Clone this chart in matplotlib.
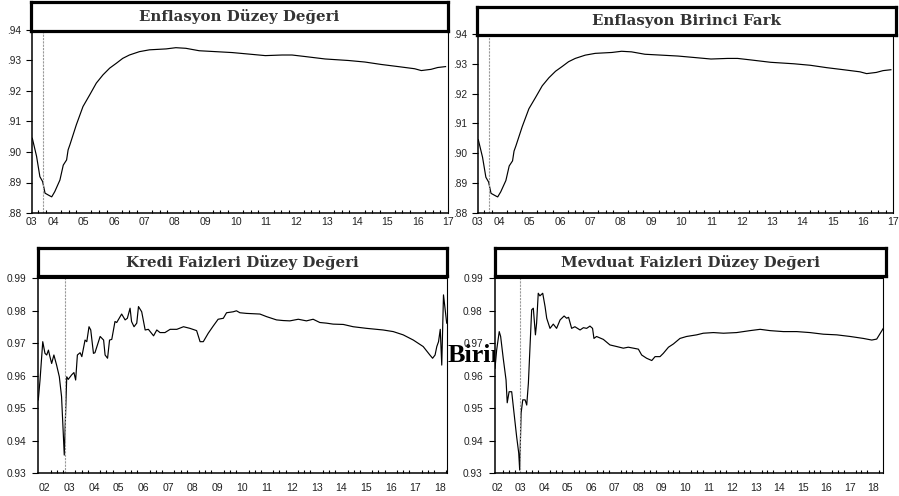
import matplotlib
matplotlib.use("Agg")
import matplotlib.pyplot as plt
from matplotlib.ticker import FuncFormatter, FixedLocator
import numpy as np

plt.rcParams['font.family'] = ['Liberation Sans', 'DejaVu Sans']

# Enflasyon (both top panels show the same curve), decimal years
enf_dates = [2003.80, 2003.94, 2004.05, 2004.14, 2004.22, 2004.38, 2004.44, 2004.54,
             2004.71, 2004.82, 2004.93, 2004.98, 2005.04, 2005.25, 2005.47, 2005.69,
             2005.91, 2006.13, 2006.35, 2006.57, 2006.78, 2007.00, 2007.33, 2007.66,
             2008.21, 2008.53, 2008.86, 2009.30, 2009.85, 2010.39, 2010.94, 2011.48,
             2012.03, 2012.36, 2012.79, 2013.45, 2014.22, 2014.76, 2015.30, 2015.86,
             2016.40, 2016.62, 2016.94, 2017.16, 2017.42]
enf_values = [.9045, .8986, .8919, .8903, .8865, .8856, .8853, .8870,
              .8908, .8957, .8974, .9007, .9024, .9089, .9149, .9187,
              .9226, .9253, .9275, .9291, .9307, .9318, .9329, .9335,
              .9338, .9342, .9340, .9332, .9329, .9326, .9321, .9316,
              .9318, .9318, .9313, .9305, .9300, .9295, .9287, .9280,
              .9273, .9267, .9271, .9277, .9280]

kredi_dates = [2002.25, 2002.32, 2002.43, 2002.52, 2002.59, 2002.66, 2002.72, 2002.79,
               2002.88, 2002.99, 2003.10, 2003.19, 2003.30, 2003.40, 2003.46, 2003.60,
               2003.69, 2003.76, 2003.83, 2003.94, 2004.01, 2004.14, 2004.21, 2004.30,
               2004.37, 2004.48, 2004.54, 2004.75, 2004.89, 2004.95, 2005.05, 2005.13,
               2005.22, 2005.35, 2005.42, 2005.62, 2005.76, 2005.85, 2005.96, 2006.02,
               2006.12, 2006.23, 2006.30, 2006.43, 2006.57, 2006.70, 2006.91, 2007.04,
               2007.17, 2007.37, 2007.58, 2007.85, 2008.12, 2008.38, 2008.65, 2008.79,
               2008.92, 2009.12, 2009.32, 2009.52, 2009.73, 2009.86, 2010.13, 2010.26,
               2010.40, 2010.67, 2011.21, 2011.48, 2011.88, 2012.15, 2012.42, 2012.76,
               2013.09, 2013.36, 2013.63, 2013.90, 2014.17, 2014.58, 2014.98, 2015.52,
               2016.19, 2016.60, 2017.00, 2017.41, 2017.81, 2018.08, 2018.19, 2018.29,
               2018.36, 2018.43, 2018.50, 2018.56, 2018.63, 2018.76]
kredi_values = [.9526, .9587, .9705, .9669, .9664, .9679, .9659, .9638,
                .9664, .9633, .9597, .9536, .9356, .9597, .9589, .9603,
                .9610, .9587, .9664, .9671, .9659, .9710, .9705, .9751,
                .9741, .9669, .9671, .9721, .9710, .9664, .9654, .9710,
                .9712, .9767, .9764, .9790, .9772, .9777, .9808, .9767,
                .9751, .9762, .9813, .9797, .9741, .9743, .9723, .9741,
                .9733, .9733, .9743, .9743, .9751, .9746, .9739, .9705,
                .9705, .9731, .9753, .9774, .9777, .9794, .9797, .9800,
                .9794, .9792, .9790, .9782, .9772, .9770, .9769, .9774,
                .9769, .9774, .9764, .9762, .9759, .9758, .9751, .9746,
                .9741, .9736, .9726, .9710, .9690, .9664, .9654, .9664,
                .9690, .9705, .9743, .9633, .9849, .9762]

mevduat_dates = [2002.41, 2002.48, 2002.59, 2002.65, 2002.76, 2002.88, 2002.93, 2003.01,
                 2003.12, 2003.22, 2003.33, 2003.42, 2003.46, 2003.52, 2003.59, 2003.69,
                 2003.76, 2003.83, 2003.97, 2004.04, 2004.13, 2004.18, 2004.25, 2004.32,
                 2004.44, 2004.54, 2004.61, 2004.75, 2004.89, 2005.03, 2005.18, 2005.35,
                 2005.46, 2005.54, 2005.67, 2005.81, 2006.03, 2006.17, 2006.31, 2006.45,
                 2006.56, 2006.62, 2006.73, 2007.02, 2007.30, 2007.59, 2007.87, 2008.08,
                 2008.30, 2008.51, 2008.65, 2008.86, 2009.08, 2009.22, 2009.43, 2009.57,
                 2009.79, 2010.00, 2010.28, 2010.56, 2010.99, 2011.27, 2011.70, 2012.13,
                 2012.69, 2013.26, 2013.69, 2014.11, 2014.68, 2015.25, 2015.81, 2016.38,
                 2016.95, 2017.52, 2018.08, 2018.44, 2018.65, 2018.93]
mevduat_values = [.9623, .9679, .9736, .9721, .9654, .9587, .9517, .9551,
                  .9551, .9485, .9413, .9362, .9310, .9485, .9526, .9526,
                  .9510, .9577, .9803, .9808, .9726, .9762, .9854, .9846,
                  .9854, .9813, .9777, .9746, .9759, .9746, .9772, .9784,
                  .9777, .9780, .9746, .9751, .9741, .9748, .9746, .9753,
                  .9746, .9715, .9721, .9712, .9695, .9690, .9685, .9688,
                  .9685, .9682, .9664, .9654, .9647, .9659, .9659, .9669,
                  .9688, .9698, .9715, .9721, .9726, .9731, .9733, .9731,
                  .9733, .9739, .9743, .9739, .9736, .9736, .9733, .9728,
                  .9726, .9721, .9715, .9710, .9713, .9746]

titles = ["Enflasyon Düzey Değeri", "Enflasyon Birinci Fark",
          "Kredi Faizleri Düzey Değeri", "Mevduat Faizleri Düzey Değeri"]
break_dates = [2004.14, 2004.16, 2003.31, 2003.47]

W, H = 899, 496
fig = plt.figure(figsize=(W / 100, H / 100), dpi=100)


def px_axes(left, top, right, bottom, **kw):
    return fig.add_axes([left / W, 1 - bottom / H, (right - left) / W, (bottom - top) / H], **kw)


# stray text fragment peeking out between the bottom panels
fig.text(448 / W, 1 - 362 / H, "Birinci", fontsize=18.8, family='Liberation Serif',
         weight='bold', va='baseline', ha='left', zorder=-1)

panels = [
    dict(ax=(31.7, 30, 448, 213), box=(31, 2, 448, 31), xlim=(2003.78, 2017.43),
         ylim=(0.88, 0.94), dates=enf_dates, values=enf_values, short=True, pad=3, ypad=3),
    dict(ax=(477.7, 34, 893.3, 212.7), box=(477, 7, 896, 35), xlim=(2003.78, 2017.43),
         ylim=(0.88, 0.94), dates=enf_dates, values=enf_values, short=True, pad=3, ypad=3),
    dict(ax=(38.3, 278.3, 446.7, 473.3), box=(38, 248, 447, 276), xlim=(2002.25, 2018.76),
         ylim=(0.93, 0.99), dates=kredi_dates, values=kredi_values, short=False, pad=7, ypad=4.5),
    dict(ax=(495, 278.3, 883.3, 473.3), box=(495, 248, 886, 276), xlim=(2002.41, 2018.93),
         ylim=(0.93, 0.99), dates=mevduat_dates, values=mevduat_values, short=False, pad=7, ypad=4.5),
]

for p, title, bdate in zip(panels, titles, break_dates):
    ax = px_axes(*p['ax'])
    ax.plot(p['dates'], p['values'], color='black', lw=0.85)
    ax.axvline(bdate, color='#9a9a9a', lw=0.8, ls=(0, (2, 1)))
    x0, x1 = p['xlim']
    ax.set_xlim(x0, x1)
    ax.set_ylim(*p['ylim'])

    yt = np.round(np.arange(p['ylim'][0], p['ylim'][1] + 0.001, 0.01), 2)
    ax.set_yticks(yt)
    if p['short']:
        ax.yaxis.set_major_formatter(FuncFormatter(lambda v, pos: f"{v:.2f}".lstrip('0')))
    else:
        ax.yaxis.set_major_formatter(FuncFormatter(lambda v, pos: f"{v:.2f}"))
    ax.tick_params(axis='y', direction='out', length=4.3, width=0.8, pad=p['ypad'],
                   labelsize=7.3, labelcolor='#222222')

    years = np.arange(int(np.floor(x0)), int(np.ceil(x1)) + 1)
    label_pos = [max(y + 0.5, x0) for y in years if y + 0.5 <= x1 + 0.2]
    label_txt = [f"{y % 100:02d}" for y in years if y + 0.5 <= x1 + 0.2]
    ax.set_xticks(label_pos)
    ax.set_xticklabels(label_txt)
    quarters = [y + q / 4 for y in years for q in range(4) if x0 < y + q / 4 < x1]
    ax.xaxis.set_minor_locator(FixedLocator(quarters))
    ax.tick_params(axis='x', which='major', length=0, pad=p['pad'],
                   labelsize=7.6, labelcolor='#222222')
    ax.tick_params(axis='x', which='minor', direction='in', length=2.5, width=0.8)

    for side in ['left', 'bottom']:
        ax.spines[side].set_linewidth(1.1)
    ax.spines['right'].set_linewidth(0.8)
    ax.spines['top'].set_linewidth(0.8)

    box = px_axes(*p['box'], zorder=2)
    box.set_xticks([])
    box.set_yticks([])
    for s in box.spines.values():
        s.set_linewidth(2.3)
    box.text(0.5, 0.5, title, transform=box.transAxes, ha='center', va='center',
             family='DejaVu Serif', weight='bold', fontsize=10.8, color='#333333')

fig.savefig("out.png", dpi=100)
